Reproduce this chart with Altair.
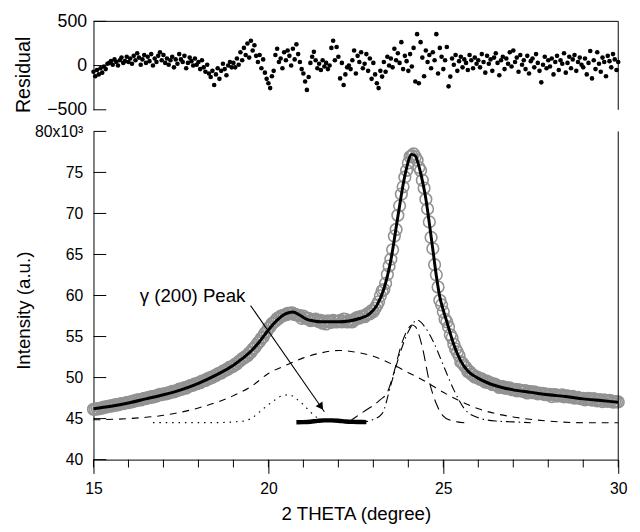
import altair as alt
import numpy as np
import pandas as pd

FONT = "Liberation Sans"

# ---------------- data ----------------
# measurement grid 15.00 .. 30.00 step 0.05 deg
two_theta = np.round(np.linspace(15.0, 30.0, 301), 2)

residual = (
    [-70, -120, -50, -100, -30, -80, -10, -40, 20, 30, 50, 10, 70, 40, 0, 60, 90, 30, 50, 100]
    + [40, 80, 20, 110, 60, 140, 90, 10, 70, 120, 30, 100, 50, 130, 0, 80, 40, 110, 150, 60]
    + [120, 30, 80, 10, 60, 100, -20, 70, 20, 130, 70, 40, 110, -30, 30, 90, 50, 0, 80, 10]
    + [40, -40, 60, -20, -70, 10, -90, -130, -60, -220, -100, -30, -150, -60, 20, -40, -110, 0, 40, -20]
    + [30, -20, 80, 10, 150, 60, 200, 120, 250, 90, 280, 170, 230, 110, 40, 120, -30, 70, -80, -150]
    + [-200, -255, -120, -60, 120, 190, 40, 80, -30, 150, 60, 170, 110, 0, 190, 70, 240, 130, 40, -40]
    + [-90, -180, -275, -130, 30, 100, 155, 60, -30, 20, -50, 60, -10, 30, -40, 0, 200, 280, 60, 210]
    + [100, -145, 30, -220, -100, -20, 0, -40, 60, 170, -90, 110, 40, 150, -30, 20, 130, -60, 80, -150]
    + [30, -100, -200, -255, -60, -125, 40, -70, 100, 0, 80, -20, 190, 60, 140, 30, 265, -40, 110, 50]
    + [-60, 130, -10, 200, -180, 355, -200, 265, 90, -120, 170, 40, 120, -30, 150, 60, 355, -90, 200, 100]
    + [-40, 60, 210, -235, -125, 80, 10, 120, -60, 50, 100, -20, 70, 30, -50, 120, 60, -30, 90, 20]
    + [60, -20, 130, 40, -80, 110, 20, 70, -60, 90, 140, 30, -110, 60, 100, -40, 80, 20, 150, -10]
    + [170, 40, 90, -70, 120, 10, 60, -40, 110, -90, 50, 80, -20, 130, 30, -60, -190, 10, 100, -30]
    + [60, -10, 80, -100, 40, 110, -50, 60, 20, 140, -80, 30, 100, -30, 70, 120, -60, 40, 90, 10]
    + [-20, 80, -100, 30, 165, -145, 60, -40, 150, 20, -70, 90, 40, -120, 110, 50, -20, 130, 70, -50]
    + [40]
)

# observed intensity, in thousands
observed = (
    [46.14, 46.14, 46.22, 46.18, 46.29, 46.28, 46.39, 46.39, 46.47, 46.51, 46.56, 46.56, 46.66, 46.67, 46.67, 46.77, 46.83, 46.82, 46.88, 46.96]
    + [46.95, 47.03, 47.03, 47.16, 47.16, 47.29, 47.29, 47.27, 47.37, 47.47, 47.44, 47.55, 47.56, 47.68, 47.61, 47.73, 47.75, 47.86, 47.94, 47.92]
    + [48.03, 48.00, 48.11, 48.10, 48.20, 48.31, 48.25, 48.39, 48.41, 48.58, 48.58, 48.63, 48.78, 48.72, 48.86, 49.00, 49.04, 49.07, 49.23, 49.24]
    + [49.35, 49.37, 49.58, 49.61, 49.64, 49.83, 49.86, 50.02, 50.02, 50.20, 50.25, 50.46, 50.52, 50.56, 50.79, 50.83, 50.99, 51.02, 51.29, 51.32]
    + [51.41, 51.64, 51.67, 51.94, 52.06, 52.31, 52.37, 52.60, 52.64, 52.99, 53.07, 53.46, 53.61, 53.91, 54.22, 54.43, 54.79, 54.94, 55.41, 55.60]
    + [56.04, 56.19, 56.57, 56.73, 56.87, 57.21, 57.23, 57.49, 57.53, 57.60, 57.66, 57.84, 57.77, 57.90, 57.85, 57.69, 57.64, 57.59, 57.54, 57.21]
    + [57.50, 57.24, 57.22, 57.22, 56.93, 57.01, 57.05, 57.12, 56.94, 56.80, 56.96, 56.62, 56.86, 56.53, 56.92, 56.83, 56.73, 56.97, 56.89, 56.77]
    + [56.84, 56.96, 56.79, 57.12, 57.09, 56.77, 56.96, 56.80, 56.78, 57.02, 57.23, 57.35, 57.24, 57.46, 57.50, 57.41, 57.65, 57.84, 57.76, 58.16]
    + [58.05, 58.43, 58.82, 59.24, 59.96, 60.57, 60.73, 61.48, 62.56, 63.60, 64.43, 65.58, 67.24, 68.05, 69.78, 70.93, 72.36, 73.25, 74.42, 75.26]
    + [76.16, 76.91, 77.04, 77.25, 76.90, 76.50, 75.61, 75.24, 74.06, 73.10, 71.74, 70.55, 68.97, 67.08, 65.71, 63.76, 62.52, 61.04, 59.42, 58.86]
    + [58.01, 57.11, 56.79, 56.17, 55.22, 54.84, 54.06, 53.48, 53.12, 52.66, 51.91, 51.74, 51.43, 51.21, 50.74, 50.74, 50.42, 50.32, 50.06, 50.10]
    + [49.96, 49.78, 49.84, 49.66, 49.45, 49.56, 49.39, 49.36, 49.15, 49.23, 49.14, 48.98, 48.79, 48.91, 48.90, 48.71, 48.78, 48.67, 48.75, 48.54]
    + [48.54, 48.56, 48.37, 48.53, 48.39, 48.41, 48.28, 48.40, 48.12, 48.28, 48.28, 48.15, 48.27, 48.14, 48.02, 48.12, 48.03, 48.09, 47.93, 47.99]
    + [47.89, 47.96, 47.67, 47.88, 47.93, 47.75, 47.84, 47.78, 47.88, 47.64, 47.73, 47.77, 47.61, 47.68, 47.70, 47.49, 47.56, 47.58, 47.47, 47.41]
    + [47.48, 47.28, 47.39, 47.46, 47.38, 47.26, 47.43, 47.28, 47.17, 47.31, 47.24, 47.06, 47.27, 47.19, 47.10, 47.23, 47.15, 47.01, 47.08, 47.03]
    + [47.03]
)
assert len(residual) == 301 and len(observed) == 301

# total fit (black line)
fit_x = [15.0, 15.5, 16.0, 16.5, 17.0, 17.5, 18.0, 18.5, 19.0, 19.25, 19.5, 19.75, 20.0, 20.25, 20.5, 20.7, 20.9,
         21.1, 21.3, 21.5, 22.0, 22.3, 22.6, 22.9, 23.1, 23.3, 23.5, 23.7, 23.9, 24.1, 24.2, 24.3, 24.4, 24.5,
         24.6, 24.7, 24.8, 24.9, 25.0, 25.1, 25.3, 25.5, 25.7, 26.0, 26.5, 27.0, 27.5, 28.0, 28.5, 29.0, 29.5, 30.0]
fit_y = [46.2, 46.5, 46.9, 47.4, 47.9, 48.5, 49.3, 50.3, 51.5, 52.3, 53.2, 54.4, 55.8, 57.0, 57.8, 58.0, 57.6,
         57.1, 56.9, 56.8, 56.8, 56.9, 57.2, 57.8, 58.8, 60.8, 64.3, 69.6, 74.6, 77.2, 77.0, 75.8, 74.0, 71.8,
         68.8, 65.6, 62.4, 59.8, 58.2, 56.8, 54.0, 52.0, 50.8, 49.9, 49.0, 48.5, 48.2, 47.9, 47.7, 47.4, 47.2, 47.0]

# fitted components
broad_x = [15, 16, 17, 18, 19, 19.5, 20, 20.5, 21, 21.5, 22, 22.5, 23, 23.5, 24, 24.5, 25, 25.5, 26, 26.5, 27, 28, 29, 30]
broad_y = [44.85, 45.0, 45.4, 46.3, 47.8, 48.9, 50.5, 51.5, 52.4, 53.0, 53.3, 53.1, 52.6, 51.7, 50.6, 49.5, 48.2,
           47.1, 46.2, 45.6, 45.2, 44.7, 44.5, 44.5]

dotted_x = [16.7, 17.5, 18.0, 18.5, 19.0, 19.3, 19.5, 19.8, 20.0, 20.2, 20.4, 20.6, 20.8, 21.0, 21.2, 21.4, 21.6]
dotted_y = [44.5, 44.5, 44.5, 44.5, 44.6, 44.7, 45.0, 46.0, 46.7, 47.3, 47.8, 47.9, 47.4, 46.7, 45.8, 45.1, 44.7]

gamma_x = [20.8, 21.0, 21.2, 21.4, 21.6, 21.8, 22.0, 22.2, 22.4, 22.6, 22.8]
gamma_y = [44.55, 44.57, 44.62, 44.72, 44.78, 44.78, 44.74, 44.65, 44.60, 44.58, 44.57]

narrow_x = [22.3, 22.5, 22.85, 23.0, 23.2, 23.4, 23.6, 23.8, 24.0, 24.1, 24.2, 24.4, 24.6, 24.8, 25.0, 25.2, 25.4, 25.6]
narrow_y = [44.6, 45.2, 46.2, 46.6, 47.3, 48.2, 50.8, 54.0, 56.0, 56.4, 56.2, 53.7, 49.5, 46.8, 45.3, 44.8, 44.6, 44.5]

dashdot_x = [22.6, 23.0, 23.25, 23.5, 23.75, 24.0, 24.25, 24.5, 24.7, 25.0, 25.3, 25.6, 26.0, 26.5, 27.0, 27.5]
dashdot_y = [44.5, 44.9, 45.6, 49.1, 52.8, 55.6, 57.0, 56.0, 54.5, 51.5, 48.5, 46.2, 45.1, 44.7, 44.6, 44.5]

# ticks
x_ticks_minor = list(range(15, 31))
x_ticks_major = [15, 20, 25, 30]
y_ticks_bottom = [40, 45, 50, 55, 60, 65, 70, 75, 80]
y_ticks_top = [-500, 0, 500]

# annotation
label_text = ["γ (200) Peak"]
label_x = [16.32]
label_y = [59.25]
arrow_x = [19.49, 21.6]
arrow_y = [58.77, 45.84]
arrowhead_x = [21.505]
arrowhead_y = [46.43]

# ---------------- chart ----------------
W = 534
H_TOP = 90
H_BOT = 334

xs = alt.Scale(domain=[15, 30], nice=False, zero=False)
ys_top = alt.Scale(domain=[-500, 500], nice=False, zero=False)
ys_bot = alt.Scale(domain=[40, 80], nice=False, zero=False)

one = pd.DataFrame({"a": [0]})

# ---- top: residual ----
res_df = pd.DataFrame({"x": two_theta, "r": residual})
top_pts = alt.Chart(res_df).mark_circle(size=22, color="black", opacity=1).encode(
    x=alt.X("x:Q", scale=xs, axis=None),
    y=alt.Y(
        "r:Q", scale=ys_top,
        axis=alt.Axis(values=y_ticks_top, ticks=False, grid=False, title="Residual",
                      titleX=-61, titleY=54, titleFontSize=20, labelFontSize=18,
                      labelPadding=7, format="d", labelOverlap=False),
    ),
)
top_ticks = alt.Chart(pd.DataFrame({"v": y_ticks_top})).mark_rule(color="black", strokeWidth=1).encode(
    y=alt.Y("v:Q", scale=ys_top), x=alt.value(0), x2=alt.value(13)
)
top_border = alt.Chart(one).mark_rule(color="black", strokeWidth=1).encode(
    x=alt.value(0), x2=alt.value(W), y=alt.value(0)
)
top_right = alt.Chart(one).mark_rule(color="black", strokeWidth=1).encode(
    x=alt.value(W), y=alt.value(0), y2=alt.value(H_TOP)
)
top = alt.layer(top_pts, top_ticks, top_border, top_right).properties(width=W, height=H_TOP)

# ---- bottom: intensity ----
obs_df = pd.DataFrame({"x": two_theta, "y": observed})
obs = alt.Chart(obs_df).mark_point(shape="circle", filled=False, size=140, color="#929292",
                                   strokeWidth=1.6, opacity=1).encode(
    x=alt.X("x:Q", scale=xs,
            axis=alt.Axis(values=x_ticks_major, tickSize=14, grid=False, title="2 THETA (degree)",
                          labelOverlap=False, labelFontSize=16, titleFontSize=19,
                          labelPadding=7, titlePadding=9)),
    y=alt.Y("y:Q", scale=ys_bot,
            axis=alt.Axis(values=y_ticks_bottom, ticks=False, grid=False, title="Intensity (a.u.)",
                          labelExpr="datum.value == 80 ? '80x10³' : datum.label", labelOverlap=False,
                          labelFontSize=16, titleFontSize=19,
                          titleX=-61.5, titleY=182, labelPadding=11)),
)


def line(xv, yv, **kw):
    return alt.Chart(pd.DataFrame({"x": xv, "y": yv})).mark_line(color="black", **kw).encode(
        x=alt.X("x:Q", scale=xs), y=alt.Y("y:Q", scale=ys_bot)
    )


fit = line(fit_x, fit_y, strokeWidth=3, interpolate="monotone")
broad = line(broad_x, broad_y, strokeWidth=1.1, strokeDash=[7, 6], interpolate="monotone")
dotted = line(dotted_x, dotted_y, strokeWidth=1.2, strokeDash=[1.5, 5], interpolate="monotone")
gamma = line(gamma_x, gamma_y, strokeWidth=4.5, interpolate="monotone")
narrow = line(narrow_x, narrow_y, strokeWidth=1.1, strokeDash=[11, 6], interpolate="monotone")
dashdot = line(dashdot_x, dashdot_y, strokeWidth=1.1, strokeDash=[9, 4, 1.5, 4], interpolate="monotone")
arrow = line(arrow_x, arrow_y, strokeWidth=1.1)

head = alt.Chart(pd.DataFrame({"x": arrowhead_x, "y": arrowhead_y})).mark_point(
    shape="triangle-up", filled=True, color="black", size=70, angle=145, opacity=1
).encode(x=alt.X("x:Q", scale=xs), y=alt.Y("y:Q", scale=ys_bot))

label = alt.Chart(pd.DataFrame({"x": label_x, "y": label_y, "t": label_text})).mark_text(
    align="left", baseline="alphabetic", font=FONT, fontSize=19, color="black"
).encode(x=alt.X("x:Q", scale=xs), y=alt.Y("y:Q", scale=ys_bot), text="t:N")

bot_yticks = alt.Chart(pd.DataFrame({"v": y_ticks_bottom})).mark_rule(color="black", strokeWidth=1).encode(
    y=alt.Y("v:Q", scale=ys_bot), x=alt.value(0), x2=alt.value(13)
)
bot_xminor = alt.Chart(pd.DataFrame({"v": x_ticks_minor})).mark_rule(color="black", strokeWidth=1).encode(
    x=alt.X("v:Q", scale=xs), y=alt.value(H_BOT), y2=alt.value(H_BOT + 8)
)
bot_right = alt.Chart(one).mark_rule(color="black", strokeWidth=1).encode(
    x=alt.value(W), y=alt.value(0), y2=alt.value(H_BOT)
)

bottom = alt.layer(
    obs, broad, dotted, narrow, dashdot, gamma, fit, arrow, head, label, bot_yticks, bot_xminor, bot_right
).properties(width=W, height=H_BOT)

chart = (
    alt.vconcat(top, bottom, spacing=22, bounds="flush")
    .properties(padding={"left": 6, "top": 0, "right": 4, "bottom": 0})
    .configure_view(stroke=None)
    .configure_axis(
        labelFont=FONT, titleFont=FONT,
        labelColor="black", titleColor="black", titleFontWeight="normal",
        domainColor="black", domainWidth=1, tickColor="black", labelFlush=False,
    )
)

chart.save("out.html", embed_options={"renderer": "svg", "actions": False})
